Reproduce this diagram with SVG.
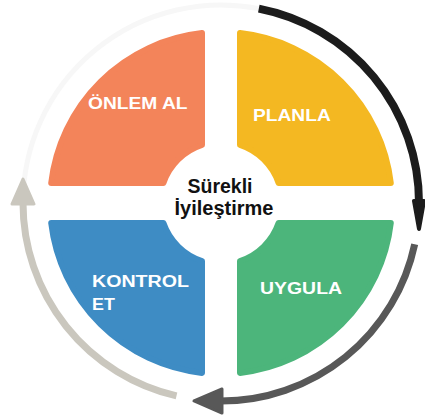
<svg xmlns="http://www.w3.org/2000/svg" width="425" height="420" viewBox="0 0 425 420">
<style>
.q{stroke-width:6;stroke-linejoin:round}
.lbl{font-family:"Liberation Sans",Arial,sans-serif;font-weight:bold;font-size:16px;fill:#ffffff}
.ctr{font-family:"Liberation Sans",Arial,sans-serif;font-weight:bold;font-size:20px;fill:#111111;text-anchor:middle}
.arc{fill:none}
</style>
<defs>
<marker id="mBlack" markerUnits="userSpaceOnUse" orient="auto" markerWidth="40" markerHeight="40" refX="0" refY="0" overflow="visible">
<path d="M-2,-5 L26,0 L-2,5 Z" fill="#1c1c1c" stroke="#1c1c1c" stroke-width="4" stroke-linejoin="round"/>
</marker>
<marker id="mDark" markerUnits="userSpaceOnUse" orient="auto" markerWidth="40" markerHeight="40" refX="0" refY="0" overflow="visible">
<path d="M-1,-12 L27,0 L-1,12 Z" fill="#585858" stroke="#585858" stroke-width="3" stroke-linejoin="round"/>
</marker>
<marker id="mLight" markerUnits="userSpaceOnUse" orient="auto" markerWidth="40" markerHeight="40" refX="0" refY="0" overflow="visible">
<path d="M-1,-11 L24,0 L-1,11 Z" fill="#cac7be" stroke="#cac7be" stroke-width="3" stroke-linejoin="round"/>
</marker>
</defs>
<rect width="425" height="420" fill="#ffffff"/>
<g id="connectors">
<path class="arc" d="M23,203 A198,198 0 0 1 258.8,8.6" stroke="#f7f7f7" stroke-width="5"/>
<path class="arc" d="M258.8,8.6 A198,198 0 0 1 419,203" stroke="#1c1c1c" stroke-width="8" marker-end="url(#mBlack)"/>
<path class="arc" d="M414.7,244.2 A198,198 0 0 1 221,401" stroke="#585858" stroke-width="7" marker-end="url(#mDark)"/>
<path class="arc" d="M176.5,395.9 A198,198 0 0 1 23,203" stroke="#cac7be" stroke-width="7" marker-end="url(#mLight)"/>
</g>
<g id="onlem-al">
<path class="q" fill="#f3845a" stroke="#f3845a" d="M202,33.1 L202,145 A61,61 0 0 0 163.4,183 L51.2,183 A171,171 0 0 1 202,33.1 Z"/>
<text class="lbl" transform="translate(88,109) scale(1.2,1)">ÖNLEM AL</text>
</g>
<g id="planla">
<path class="q" fill="#f4b822" stroke="#f4b822" d="M240,33.1 L240,145 A61,61 0 0 1 278.6,183 L390.8,183 A171,171 0 0 0 240,33.1 Z"/>
<text class="lbl" transform="translate(253,121) scale(1.2,1)">PLANLA</text>
</g>
<g id="kontrol-et">
<path class="q" fill="#3e8cc4" stroke="#3e8cc4" d="M202,372.9 L202,261 A61,61 0 0 1 163.4,223 L51.2,223 A171,171 0 0 0 202,372.9 Z"/>
<text class="lbl" transform="translate(92,287) scale(1.155,1)" style="font-size:17px">KONTROL</text>
<text class="lbl" transform="translate(92,310) scale(1.05,1)" style="font-size:17px">ET</text>
</g>
<g id="uygula">
<path class="q" fill="#4cb57b" stroke="#4cb57b" d="M240,372.9 L240,261 A61,61 0 0 0 278.6,223 L390.8,223 A171,171 0 0 1 240,372.9 Z"/>
<text class="lbl" transform="translate(260,294) scale(1.215,1)">UYGULA</text>
</g>
<g id="surekli-iyilestirme">
<text class="ctr" x="220" y="193" style="font-size:19.5px">Sürekli</text>
<text class="ctr" x="224" y="215">İyileştirme</text>
</g>
</svg>
